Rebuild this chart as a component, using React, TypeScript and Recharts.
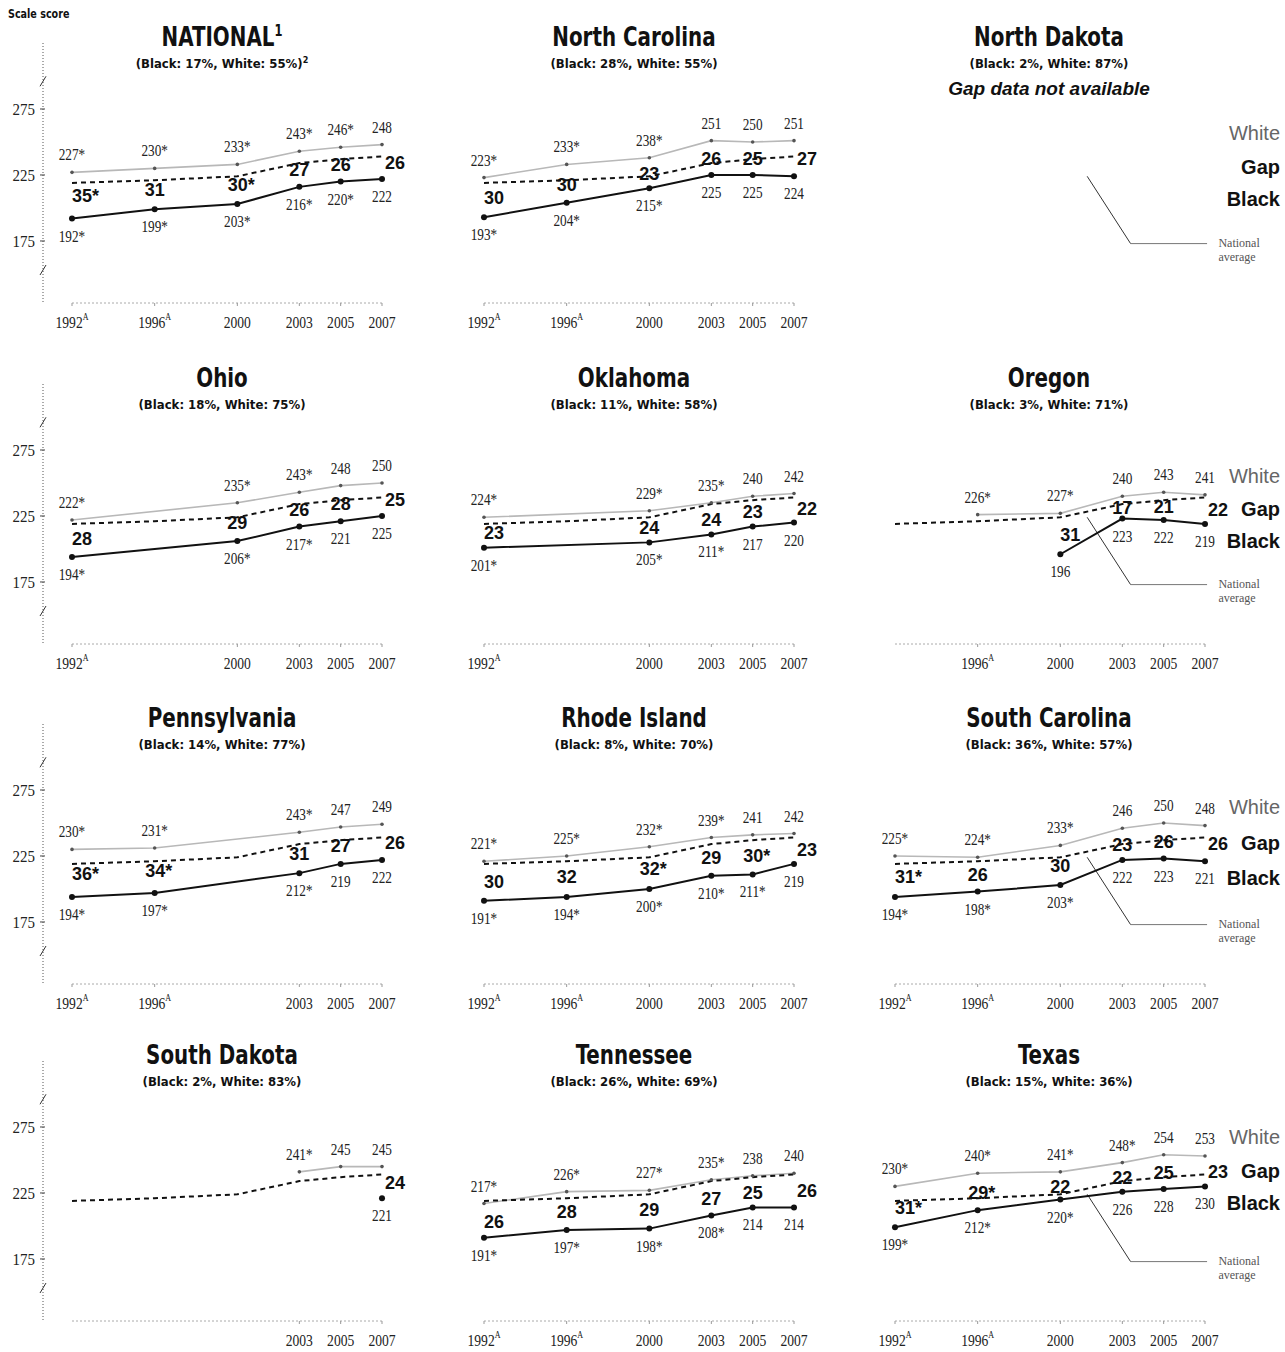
import React from 'react';
import { LineChart, Line, XAxis, YAxis, ReferenceLine, ReferenceDot } from 'recharts';

// years shared by every panel; null = no estimate that year
const years = [1992, 1996, 2000, 2003, 2005, 2007];
const nationalAverage = [219, 221, 224, 234, 237, 239];
const yTicks = [175, 225, 275];
const none = [0, 0, 0, 0, 0, 0];

const natWhite = [227, 230, 233, 243, 246, 248];
const natWhiteStar = [1, 1, 1, 1, 1, 0];
const natBlack = [192, 199, 203, 216, 220, 222];
const natBlackStar = [1, 1, 1, 1, 1, 0];
const natGap = [35, 31, 30, 27, 26, 26];
const natGapStar = [1, 0, 1, 0, 0, 0];

const ncWhite = [223, 233, 238, 251, 250, 251];
const ncWhiteStar = [1, 1, 1, 0, 0, 0];
const ncBlack = [193, 204, 215, 225, 225, 224];
const ncBlackStar = [1, 1, 1, 0, 0, 0];
const ncGap = [30, 30, 23, 26, 25, 27];

const ohWhite = [222, null, 235, 243, 248, 250];
const ohWhiteStar = [1, 0, 1, 1, 0, 0];
const ohBlack = [194, null, 206, 217, 221, 225];
const ohBlackStar = [1, 0, 1, 1, 0, 0];
const ohGap = [28, null, 29, 26, 28, 25];

const okWhite = [224, null, 229, 235, 240, 242];
const okWhiteStar = [1, 0, 1, 1, 0, 0];
const okBlack = [201, null, 205, 211, 217, 220];
const okBlackStar = [1, 0, 1, 1, 0, 0];
const okGap = [23, null, 24, 24, 23, 22];

const orWhite = [null, 226, 227, 240, 243, 241];
const orWhiteStar = [0, 1, 1, 0, 0, 0];
const orBlack = [null, null, 196, 223, 222, 219];
const orGap = [null, null, 31, 17, 21, 22];

const paWhite = [230, 231, null, 243, 247, 249];
const paWhiteStar = [1, 1, 0, 1, 0, 0];
const paBlack = [194, 197, null, 212, 219, 222];
const paBlackStar = [1, 1, 0, 1, 0, 0];
const paGap = [36, 34, null, 31, 27, 26];
const paGapStar = [1, 1, 0, 0, 0, 0];

const riWhite = [221, 225, 232, 239, 241, 242];
const riWhiteStar = [1, 1, 1, 1, 0, 0];
const riBlack = [191, 194, 200, 210, 211, 219];
const riBlackStar = [1, 1, 1, 1, 1, 0];
const riGap = [30, 32, 32, 29, 30, 23];
const riGapStar = [0, 0, 1, 0, 1, 0];

const scWhite = [225, 224, 233, 246, 250, 248];
const scWhiteStar = [1, 1, 1, 0, 0, 0];
const scBlack = [194, 198, 203, 222, 223, 221];
const scBlackStar = [1, 1, 1, 0, 0, 0];
const scGap = [31, 26, 30, 23, 26, 26];
const scGapStar = [1, 0, 0, 0, 0, 0];

const sdWhite = [null, null, null, 241, 245, 245];
const sdWhiteStar = [0, 0, 0, 1, 0, 0];
const sdBlack = [null, null, null, null, null, 221];
const sdGap = [null, null, null, null, null, 24];

const tnWhite = [217, 226, 227, 235, 238, 240];
const tnWhiteStar = [1, 1, 1, 1, 0, 0];
const tnBlack = [191, 197, 198, 208, 214, 214];
const tnBlackStar = [1, 1, 1, 1, 0, 0];
const tnGap = [26, 28, 29, 27, 25, 26];

const txWhite = [230, 240, 241, 248, 254, 253];
const txWhiteStar = [1, 1, 1, 1, 0, 0];
const txBlack = [199, 212, 220, 226, 228, 230];
const txBlackStar = [1, 1, 1, 0, 0, 0];
const txGap = [31, 29, 22, 22, 25, 23];
const txGapStar = [1, 1, 0, 0, 0, 0];

type Num = number | null;
type PanelDef = {
  title: string;
  sup?: string;
  sub: string;
  subSup?: string;
  note?: string;
  col: number;
  row: number;
  white?: Num[];
  whiteStar?: number[];
  black?: Num[];
  blackStar?: number[];
  gap?: Num[];
  gapStar?: number[];
};

const panels: PanelDef[] = [
  { title: 'NATIONAL', sup: '1', sub: '(Black: 17%, White: 55%)', subSup: '2', col: 0, row: 0,
    white: natWhite, whiteStar: natWhiteStar, black: natBlack, blackStar: natBlackStar, gap: natGap, gapStar: natGapStar },
  { title: 'North Carolina', sub: '(Black: 28%, White: 55%)', col: 1, row: 0,
    white: ncWhite, whiteStar: ncWhiteStar, black: ncBlack, blackStar: ncBlackStar, gap: ncGap, gapStar: none },
  { title: 'North Dakota', sub: '(Black: 2%, White: 87%)', note: 'Gap data not available', col: 2, row: 0 },
  { title: 'Ohio', sub: '(Black: 18%, White: 75%)', col: 0, row: 1,
    white: ohWhite, whiteStar: ohWhiteStar, black: ohBlack, blackStar: ohBlackStar, gap: ohGap, gapStar: none },
  { title: 'Oklahoma', sub: '(Black: 11%, White: 58%)', col: 1, row: 1,
    white: okWhite, whiteStar: okWhiteStar, black: okBlack, blackStar: okBlackStar, gap: okGap, gapStar: none },
  { title: 'Oregon', sub: '(Black: 3%, White: 71%)', col: 2, row: 1,
    white: orWhite, whiteStar: orWhiteStar, black: orBlack, blackStar: none, gap: orGap, gapStar: none },
  { title: 'Pennsylvania', sub: '(Black: 14%, White: 77%)', col: 0, row: 2,
    white: paWhite, whiteStar: paWhiteStar, black: paBlack, blackStar: paBlackStar, gap: paGap, gapStar: paGapStar },
  { title: 'Rhode Island', sub: '(Black: 8%, White: 70%)', col: 1, row: 2,
    white: riWhite, whiteStar: riWhiteStar, black: riBlack, blackStar: riBlackStar, gap: riGap, gapStar: riGapStar },
  { title: 'South Carolina', sub: '(Black: 36%, White: 57%)', col: 2, row: 2,
    white: scWhite, whiteStar: scWhiteStar, black: scBlack, blackStar: scBlackStar, gap: scGap, gapStar: scGapStar },
  { title: 'South Dakota', sub: '(Black: 2%, White: 83%)', col: 0, row: 3,
    white: sdWhite, whiteStar: sdWhiteStar, black: sdBlack, blackStar: none, gap: sdGap, gapStar: none },
  { title: 'Tennessee', sub: '(Black: 26%, White: 69%)', col: 1, row: 3,
    white: tnWhite, whiteStar: tnWhiteStar, black: tnBlack, blackStar: tnBlackStar, gap: tnGap, gapStar: none },
  { title: 'Texas', sub: '(Black: 15%, White: 36%)', col: 2, row: 3,
    white: txWhite, whiteStar: txWhiteStar, black: txBlack, blackStar: txBlackStar, gap: txGap, gapStar: txGapStar },
];

const PAGE_W = 1285;
const PAGE_H = 1352;
const colLeft = [0, 412, 823];
const colTitleX = [222, 634, 1049];
const rowTop = [0, 341, 681, 1018];
const Y_DOMAIN: [number, number] = [128, 325];
const BREAKS = [153, 296];

const narrow = '"DejaVu Sans Condensed", "Liberation Sans Narrow", "Arial Narrow", sans-serif';
const sans = '"Liberation Sans", Arial, Helvetica, sans-serif';
const serif = '"Liberation Serif", "Times New Roman", serif';

// horizontally squeezed svg text (the print uses a condensed face)
function SText({ x, y, sx = 0.78, anchor = 'middle', size = 17, fill = '#222', family = serif, children }: any) {
  return (
    <text
      transform={`translate(${x},${y}) scale(${sx},1)`}
      textAnchor={anchor}
      fontFamily={family}
      fontSize={size}
      fill={fill}
    >
      {children}
    </text>
  );
}

function YTick(props: any) {
  const { x, y, payload } = props;
  const v = payload.value;
  const ax = x + 8; // tickSize 6 + tickMargin 2
  if (BREAKS.includes(v)) {
    return <path d={`M${ax - 3},${y + 5} L${ax + 3},${y - 5}`} stroke="#333" strokeWidth={1} fill="none" />;
  }
  if (!yTicks.includes(v)) return <g />;
  return (
    <g>
      <line x1={ax - 3} x2={ax + 2} y1={y} y2={y} stroke="#444" />
      <SText x={x} y={y + 6} anchor="end" size={17} sx={0.88}>
        {v}
      </SText>
    </g>
  );
}

function XTick(props: any) {
  const { x, y, payload } = props;
  const yr = payload.value;
  const foot = yr === 1992 || yr === 1996;
  return (
    <SText x={x} y={y + 20} size={17} sx={0.8}>
      {yr}
      {foot && (
        <tspan fontSize={10} dy={-8}>
          A
        </tspan>
      )}
    </SText>
  );
}

function NatLabel(props: any) {
  const { viewBox } = props;
  const x = viewBox.x + 2;
  const y = viewBox.y + 4;
  return (
    <text x={x} y={y} fontFamily={serif} fontSize={12} fill="#555">
      <tspan x={x}>National</tspan>
      <tspan x={x} dy={14}>
        average
      </tspan>
    </text>
  );
}

const star = (s?: number) => (s ? '*' : '');

function Panel({ p }: { p: PanelDef }) {
  const left = colLeft[p.col];
  const top = rowTop[p.row];
  const width = p.col === 2 ? PAGE_W - left : 412;
  const hasData = !!p.white;
  const legend = p.col === 2;

  const data = years.map((year, i) => {
    const w = p.white ? p.white[i] : null;
    const b = p.black ? p.black[i] : null;
    const g = p.gap ? p.gap[i] : null;
    return {
      year,
      nat: nationalAverage[i],
      white: w,
      black: b,
      gap: g,
      gapPos: w != null && b != null && g != null ? (w + b) / 2 : null,
      wStar: p.whiteStar ? p.whiteStar[i] : 0,
      bStar: p.blackStar ? p.blackStar[i] : 0,
      gStar: p.gapStar ? p.gapStar[i] : 0,
    };
  });

  const xTicks = years.filter((_, i) => p.white && p.white[i] != null);
  const gapIdx = data.map((d, i) => (d.gapPos != null ? i : -1)).filter((i) => i >= 0);
  const firstGap = gapIdx[0];
  const lastGap = gapIdx[gapIdx.length - 1];
  const lastIdx = years.length - 1;

  const whiteDot = (d: any) => {
    const { cx, cy, payload, index } = d;
    if (cy == null || payload.white == null) return <g key={`w${index}`} />;
    return (
      <g key={`w${index}`}>
        <circle cx={cx} cy={cy} r={1.8} fill="#555" />
        <SText x={cx} y={cy - 12}>
          {payload.white}
          {star(payload.wStar)}
        </SText>
        {legend && index === lastIdx && (
          <text x={cx + 75} y={cy - 12} textAnchor="end" fontFamily={sans} fontSize={20} fill="#666">
            White
          </text>
        )}
      </g>
    );
  };

  const blackDot = (d: any) => {
    const { cx, cy, payload, index } = d;
    if (cy == null || payload.black == null) return <g key={`b${index}`} />;
    return (
      <g key={`b${index}`}>
        <circle cx={cx} cy={cy} r={3} fill="#111" />
        <SText x={cx} y={cy + 23}>
          {payload.black}
          {star(payload.bStar)}
        </SText>
        {legend && index === lastIdx && (
          <text x={cx + 75} y={cy + 24} textAnchor="end" fontFamily={sans} fontWeight="bold" fontSize={20} fill="#111">
            Black
          </text>
        )}
      </g>
    );
  };

  const gapDot = (d: any) => {
    const { cx, cy, payload, index } = d;
    if (cy == null || payload.gapPos == null) return <g key={`g${index}`} />;
    const edge = index === firstGap || index === lastGap;
    const x = index === lastGap ? cx + 3 : index === firstGap ? cx : cx + (payload.gStar ? 4 : 0);
    return (
      <g key={`g${index}`}>
        <text
          x={x}
          y={cy + 7}
          textAnchor={edge ? 'start' : 'middle'}
          fontFamily={sans}
          fontWeight="bold"
          fontSize={18}
          fill="#111"
        >
          {payload.gap}
          {star(payload.gStar)}
        </text>
        {legend && index === lastGap && (
          <text x={cx + 75} y={cy + 7} textAnchor="end" fontFamily={sans} fontWeight="bold" fontSize={20} fill="#111">
            Gap
          </text>
        )}
      </g>
    );
  };

  return (
    <>
      <div
        style={{
          position: 'absolute',
          left: colTitleX[p.col],
          top: top + 37,
          transform: 'translate(-50%, -50%) scaleX(0.85)',
          font: `bold 26px ${narrow}`,
          whiteSpace: 'nowrap',
          color: '#111',
        }}
      >
        {p.title}
        {p.sup && <sup style={{ fontSize: 15 }}>{p.sup}</sup>}
      </div>
      <div
        style={{
          position: 'absolute',
          left: colTitleX[p.col],
          top: top + 63,
          transform: 'translate(-50%, -50%)',
          font: `bold 13px ${narrow}`,
          whiteSpace: 'nowrap',
          color: '#111',
        }}
      >
        {p.sub}
        {p.subSup && <sup style={{ fontSize: 9 }}>{p.subSup}</sup>}
      </div>
      {p.note && (
        <div
          style={{
            position: 'absolute',
            left: colTitleX[p.col],
            top: top + 89,
            transform: 'translate(-50%, -50%)',
            font: `italic bold 19px ${sans}`,
            whiteSpace: 'nowrap',
            color: '#111',
          }}
        >
          {p.note}
        </div>
      )}
      <div style={{ position: 'absolute', left, top }}>
        <LineChart
          width={width}
          height={334}
          data={data}
          margin={{ top: 43, right: width - 382, bottom: 1, left: p.col === 0 ? 0 : 43 }}
        >
          <XAxis
            dataKey="year"
            type="number"
            domain={[1992, 2007]}
            ticks={hasData ? xTicks : undefined}
            interval={0}
            padding={{ left: 29, right: 0 }}
            axisLine={false}
            tickLine={hasData ? { stroke: '#999' } : false}
            tickSize={3}
            tickMargin={2}
            height={30}
            tick={hasData ? <XTick /> : false}
          />
          <YAxis
            type="number"
            domain={Y_DOMAIN}
            ticks={[Y_DOMAIN[0], ...BREAKS, ...yTicks, Y_DOMAIN[1]].sort((a, b) => a - b)}
            interval={0}
            width={43}
            hide={p.col !== 0}
            axisLine={{ stroke: '#555', strokeDasharray: '1 2' }}
            tickLine={false}
            tickSize={6}
            tickMargin={2}
            tick={<YTick />}
            allowDataOverflow
          />
          {hasData && (
            <ReferenceLine
              segment={[
                { x: 1992, y: Y_DOMAIN[0] },
                { x: 2007, y: Y_DOMAIN[0] },
              ]}
              stroke="#aaa"
              strokeDasharray="2 2"
            />
          )}
          {legend && (
            <ReferenceLine
              segment={[
                { x: 2001.3, y: 224 },
                { x: 2003.4, y: 173 },
              ]}
              stroke="#333"
              strokeWidth={1}
              ifOverflow="visible"
            />
          )}
          {legend && (
            <ReferenceLine
              segment={[
                { x: 2003.4, y: 173 },
                { x: 2007.1, y: 173 },
              ]}
              stroke="#777"
              strokeWidth={1}
              ifOverflow="visible"
            />
          )}
          {legend && (
            <ReferenceDot x={2007.6} y={173} r={1} fill="none" stroke="none" ifOverflow="visible" label={<NatLabel />} />
          )}
          {hasData && (
            <Line
              dataKey="white"
              stroke="#b8b8b8"
              strokeWidth={1.6}
              connectNulls
              dot={whiteDot}
              activeDot={false}
              isAnimationActive={false}
            />
          )}
          {hasData && (
            <Line
              dataKey="nat"
              stroke="#111"
              strokeWidth={2}
              strokeDasharray="5 4"
              dot={false}
              activeDot={false}
              isAnimationActive={false}
            />
          )}
          {hasData && (
            <Line
              dataKey="black"
              stroke="#111"
              strokeWidth={2}
              connectNulls
              dot={blackDot}
              activeDot={false}
              isAnimationActive={false}
            />
          )}
          {hasData && (
            <Line
              dataKey="gapPos"
              stroke="none"
              connectNulls
              dot={gapDot}
              activeDot={false}
              isAnimationActive={false}
            />
          )}
        </LineChart>
      </div>
      {!hasData && legend && (
        <>
          <div style={{ position: 'absolute', right: 5, top: top + 133, transform: 'translateY(-50%)', font: `20px ${sans}`, color: '#666' }}>
            White
          </div>
          <div style={{ position: 'absolute', right: 5, top: top + 167, transform: 'translateY(-50%)', font: `bold 20px ${sans}`, color: '#111' }}>
            Gap
          </div>
          <div style={{ position: 'absolute', right: 5, top: top + 199, transform: 'translateY(-50%)', font: `bold 20px ${sans}`, color: '#111' }}>
            Black
          </div>
        </>
      )}
    </>
  );
}

export default function App() {
  return (
    <div
      style={{
        position: 'absolute',
        left: 0,
        top: 0,
        width: PAGE_W,
        height: PAGE_H,
        background: '#fff',
        overflow: 'hidden',
        fontFamily: sans,
      }}
    >
      <div
        style={{
          position: 'absolute',
          left: 8,
          top: 6,
          font: `bold 13px ${narrow}`,
          color: '#111',
          transform: 'scaleX(0.82)',
          transformOrigin: 'left center',
        }}
      >
        Scale score
      </div>
      {panels.map((p) => (
        <Panel key={p.title} p={p} />
      ))}
    </div>
  );
}
